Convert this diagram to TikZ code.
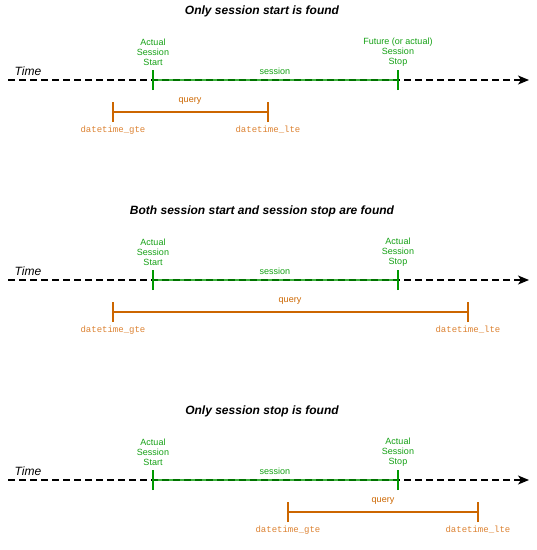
\documentclass[tikz,border=0pt]{standalone}
\usepackage{fontspec}
\setmainfont{Liberation Sans}
\setmonofont{Liberation Mono}
\usetikzlibrary{arrows.meta}
\definecolor{sgreen}{RGB}{0,153,0}
\definecolor{sgreentxt}{RGB}{20,160,20}
\definecolor{qorange}{RGB}{204,102,0}
\definecolor{qorangetxt}{RGB}{220,130,50}
\tikzset{
  titletxt/.style={font=\fontsize{12}{14}\selectfont\bfseries\itshape, inner sep=0pt},
  timetxt/.style={font=\fontsize{12}{14}\selectfont\itshape, inner sep=0pt},
  greentxt/.style={font=\fontsize{9}{10}\selectfont, text=sgreentxt, align=center, inner sep=0pt},
  orangetxt/.style={font=\fontsize{9}{10}\selectfont, text=qorange, inner sep=0pt},
  monotxt/.style={font=\fontsize{9}{10}\selectfont\ttfamily, text=qorangetxt, inner sep=0pt},
  timeline/.style={draw=black, line width=1.6pt, dash pattern=on 6.5pt off 4.5pt, -{Stealth[length=11pt,width=9pt,inset=3pt]}},
  sessline/.style={draw=sgreen, line width=2.4pt, opacity=0.75},
  sesstick/.style={draw=sgreen, line width=1.6pt},
  queryline/.style={draw=qorange, line width=1.6pt},
}
\begin{document}
\begin{tikzpicture}[x=1pt,y=-1pt]
\useasboundingbox (0,0) rectangle (537,550);
% ---------- panel 1
\node[titletxt] (t1) at (262,11) {Only session start is found};
\node[timetxt] (time1) at (28,71) {Time};
\coordinate (a1) at (8,80);
\coordinate (b1) at (529,80);
\draw[timeline] (a1) -- (b1);
\coordinate (s1) at (153,80);
\coordinate (e1) at (398,80);
\draw[sessline] (s1) -- (e1);
\draw[sesstick] ([yshift=-10pt]s1) -- ([yshift=10pt]s1);
\draw[sesstick] ([yshift=-10pt]e1) -- ([yshift=10pt]e1);
\node[greentxt] (ss1) at (153,52) {Actual\\Session\\Start};
\node[greentxt] (se1) at (398,52) {Future (or actual)\\Session\\Stop};
\node[greentxt] (sl1) at (275,71) {session};
\coordinate (q1a) at (113,112);
\coordinate (q1b) at (268,112);
\draw[queryline] (q1a) -- (q1b);
\draw[queryline] ([yshift=-10pt]q1a) -- ([yshift=10pt]q1a);
\draw[queryline] ([yshift=-10pt]q1b) -- ([yshift=10pt]q1b);
\node[orangetxt] (ql1) at (190,101) {query};
\node[monotxt] (g1) at (113,130) {datetime\_gte};
\node[monotxt] (l1) at (268,130) {datetime\_lte};
% ---------- panel 2
\node[titletxt] (t2) at (262,211) {Both session start and session stop are found};
\node[timetxt] (time2) at (28,271) {Time};
\coordinate (a2) at (8,280);
\coordinate (b2) at (529,280);
\draw[timeline] (a2) -- (b2);
\coordinate (s2) at (153,280);
\coordinate (e2) at (398,280);
\draw[sessline] (s2) -- (e2);
\draw[sesstick] ([yshift=-10pt]s2) -- ([yshift=10pt]s2);
\draw[sesstick] ([yshift=-10pt]e2) -- ([yshift=10pt]e2);
\node[greentxt] (ss2) at (153,252) {Actual\\Session\\Start};
\node[greentxt] (se2) at (398,252) {Actual\\Session\\Stop};
\node[greentxt] (sl2) at (275,271) {session};
\coordinate (q2a) at (113,312);
\coordinate (q2b) at (468,312);
\draw[queryline] (q2a) -- (q2b);
\draw[queryline] ([yshift=-10pt]q2a) -- ([yshift=10pt]q2a);
\draw[queryline] ([yshift=-10pt]q2b) -- ([yshift=10pt]q2b);
\node[orangetxt] (ql2) at (290,301) {query};
\node[monotxt] (g2) at (113,330) {datetime\_gte};
\node[monotxt] (l2) at (468,330) {datetime\_lte};
% ---------- panel 3
\node[titletxt] (t3) at (262,411) {Only session stop is found};
\node[timetxt] (time3) at (28,471) {Time};
\coordinate (a3) at (8,480);
\coordinate (b3) at (529,480);
\draw[timeline] (a3) -- (b3);
\coordinate (s3) at (153,480);
\coordinate (e3) at (398,480);
\draw[sessline] (s3) -- (e3);
\draw[sesstick] ([yshift=-10pt]s3) -- ([yshift=10pt]s3);
\draw[sesstick] ([yshift=-10pt]e3) -- ([yshift=10pt]e3);
\node[greentxt] (ss3) at (153,452) {Actual\\Session\\Start};
\node[greentxt] (se3) at (398,452) {Actual\\Session\\Stop};
\node[greentxt] (sl3) at (275,471) {session};
\coordinate (q3a) at (288,512);
\coordinate (q3b) at (478,512);
\draw[queryline] (q3a) -- (q3b);
\draw[queryline] ([yshift=-10pt]q3a) -- ([yshift=10pt]q3a);
\draw[queryline] ([yshift=-10pt]q3b) -- ([yshift=10pt]q3b);
\node[orangetxt] (ql3) at (383,501) {query};
\node[monotxt] (g3) at (288,530) {datetime\_gte};
\node[monotxt] (l3) at (478,530) {datetime\_lte};
\end{tikzpicture}
\end{document}
